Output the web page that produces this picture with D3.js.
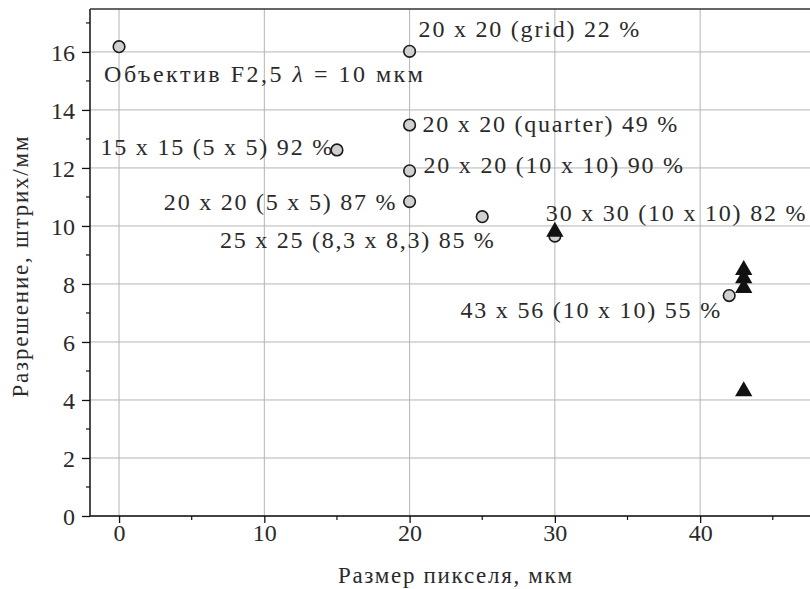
<!DOCTYPE html>
<html>
<head>
<meta charset="utf-8">
<script src="https://cdn.jsdelivr.net/npm/d3@7"></script>
<style>
  body { margin: 0; background: #fff; }
  text { font-family: "Liberation Serif", "DejaVu Serif", serif; fill: #2a2a2a; }
</style>
</head>
<body>
<svg id="chart" width="810" height="589"></svg>
<script>
// measured points (circles)
const circleX = [0, 20, 20, 20, 20, 25, 15, 30, 42];
const circleY = [16.18, 16.02, 13.48, 11.9, 10.84, 10.32, 12.62, 9.65, 7.6];

// triangles
const triX = [30, 43, 43, 43, 43];
const triY = [9.8, 8.48, 8.2, 7.86, 4.3];

// annotations: text, anchor x/y in data units, text-anchor
const labelText = [
  "20 x 20 (grid) 22 %",
  "20 x 20 (quarter) 49 %",
  "20 x 20 (10 x 10) 90 %",
  "30 x 30 (10 x 10) 82 %",
  "15 x 15 (5 x 5) 92 %",
  "20 x 20 (5 x 5) 87 %",
  "25 x 25 (8,3 x 8,3) 85 %",
  "43 x 56 (10 x 10) 55 %"
];
const labelX = [20.62, 20.88, 20.95, 29.38, 14.67, 19.03, 25.8, 41.38];
const labelY = [16.52, 13.25, 11.84, 10.18, 12.45, 10.55, 9.24, 6.83];
const labelAnchor = ["start", "start", "start", "start", "end", "end", "end", "end"];

const xTicks = [0, 10, 20, 30, 40];
const yTicks = [0, 2, 4, 6, 8, 10, 12, 14, 16];

const serif = '"Liberation Serif", "DejaVu Serif", serif';
const svg = d3.select('#chart');
const mLeft = 90, mTop = 9, mBottom = 516, mRight = 812;

const x = d3.scaleLinear().domain([-2.0, 47.7]).range([mLeft, mRight]);
const y = d3.scaleLinear().domain([0, 17.48]).range([mBottom, mTop]);

// stretch text a bit so it takes the room the original (wider) face used
function widen(sel, k) {
  sel.each(function() {
    const w = this.getComputedTextLength();
    d3.select(this).attr('textLength', w * k).attr('lengthAdjust', 'spacing');
  });
}

// grid
svg.append('g').selectAll('line').data(xTicks).join('line')
  .attr('x1', d => x(d)).attr('x2', d => x(d))
  .attr('y1', mTop).attr('y2', mBottom)
  .attr('stroke', '#b4b4b4').attr('stroke-width', 1);
svg.append('g').selectAll('line').data(yTicks).join('line')
  .attr('x1', mLeft).attr('x2', mRight)
  .attr('y1', d => y(d)).attr('y2', d => y(d))
  .attr('stroke', '#b4b4b4').attr('stroke-width', 1);

// axes
const xAxis = d3.axisBottom(x).tickValues(xTicks).tickSize(7).tickPadding(1);
const yAxis = d3.axisLeft(y).tickValues(yTicks).tickSize(8).tickPadding(7);

const gx = svg.append('g').attr('transform', `translate(0,${mBottom})`).call(xAxis);
const gy = svg.append('g').attr('transform', `translate(${mLeft},0)`).call(yAxis);
[gx, gy].forEach(g => {
  g.attr('font-family', null).attr('font-size', null);
  g.select('.domain').remove();
  g.selectAll('line').attr('stroke', '#111').attr('stroke-width', 1.3);
  g.selectAll('text')
    .style('font-family', serif)
    .style('font-size', '24px')
    .attr('fill', '#2a2a2a');
});
gy.selectAll('text').attr('dy', '0.34em');

// minor ticks
const xMinor = d3.range(5, 47, 10);
svg.append('g').selectAll('line').data(xMinor).join('line')
  .attr('x1', d => x(d)).attr('x2', d => x(d))
  .attr('y1', mBottom).attr('y2', mBottom + 4)
  .attr('stroke', '#111').attr('stroke-width', 1.2);
const yMinor = d3.range(1, 18, 2);
svg.append('g').selectAll('line').data(yMinor).join('line')
  .attr('x1', mLeft - 4).attr('x2', mLeft)
  .attr('y1', d => y(d)).attr('y2', d => y(d))
  .attr('stroke', '#111').attr('stroke-width', 1.2);

// spines
svg.append('line').attr('x1', mLeft).attr('x2', mRight).attr('y1', mBottom).attr('y2', mBottom)
  .attr('stroke', '#111').attr('stroke-width', 1.5);
svg.append('line').attr('x1', mLeft).attr('x2', mLeft).attr('y1', mTop).attr('y2', mBottom)
  .attr('stroke', '#111').attr('stroke-width', 1.5);
svg.append('line').attr('x1', mLeft).attr('x2', mRight).attr('y1', mTop).attr('y2', mTop)
  .attr('stroke', '#333').attr('stroke-width', 1.5);

// markers
svg.append('g').selectAll('circle').data(circleX).join('circle')
  .attr('cx', d => x(d)).attr('cy', (d, i) => y(circleY[i]))
  .attr('r', 5.8)
  .attr('fill', '#d0d0d0').attr('stroke', '#1a1a1a').attr('stroke-width', 1.6);

const tri = d3.symbol().type(d3.symbolTriangle).size(130);
svg.append('g').selectAll('path').data(triX).join('path')
  .attr('d', tri)
  .attr('transform', (d, i) => `translate(${x(d)},${y(triY[i])})`)
  .attr('fill', '#111');

// annotations
const labels = svg.append('g').selectAll('text').data(labelText).join('text')
  .attr('x', (d, i) => x(labelX[i]))
  .attr('y', (d, i) => y(labelY[i]))
  .attr('text-anchor', (d, i) => labelAnchor[i])
  .style('font-family', serif)
  .style('font-size', '24px')
  .text(d => d);
widen(labels, 1.17);

const lens = svg.append('text')
  .attr('x', x(-1.03)).attr('y', y(14.95))
  .style('font-family', serif)
  .style('font-size', '24px');
lens.append('tspan').text('Объектив F2,5 ');
lens.append('tspan').attr('font-style', 'italic').text('λ');
lens.append('tspan').text(' = 10 мкм');
widen(lens, 1.22);

// axis titles
const xTitle = svg.append('text')
  .attr('x', 455).attr('y', 583)
  .attr('text-anchor', 'middle')
  .style('font-family', serif)
  .style('font-size', '23px')
  .text('Размер пикселя, мкм');
widen(xTitle, 1.15);

const yTitle = svg.append('text')
  .attr('transform', 'translate(28,267) rotate(-90)')
  .attr('text-anchor', 'middle')
  .style('font-family', serif)
  .style('font-size', '23px')
  .text('Разрешение, штрих/мм');
widen(yTitle, 1.15);
</script>
</body>
</html>
